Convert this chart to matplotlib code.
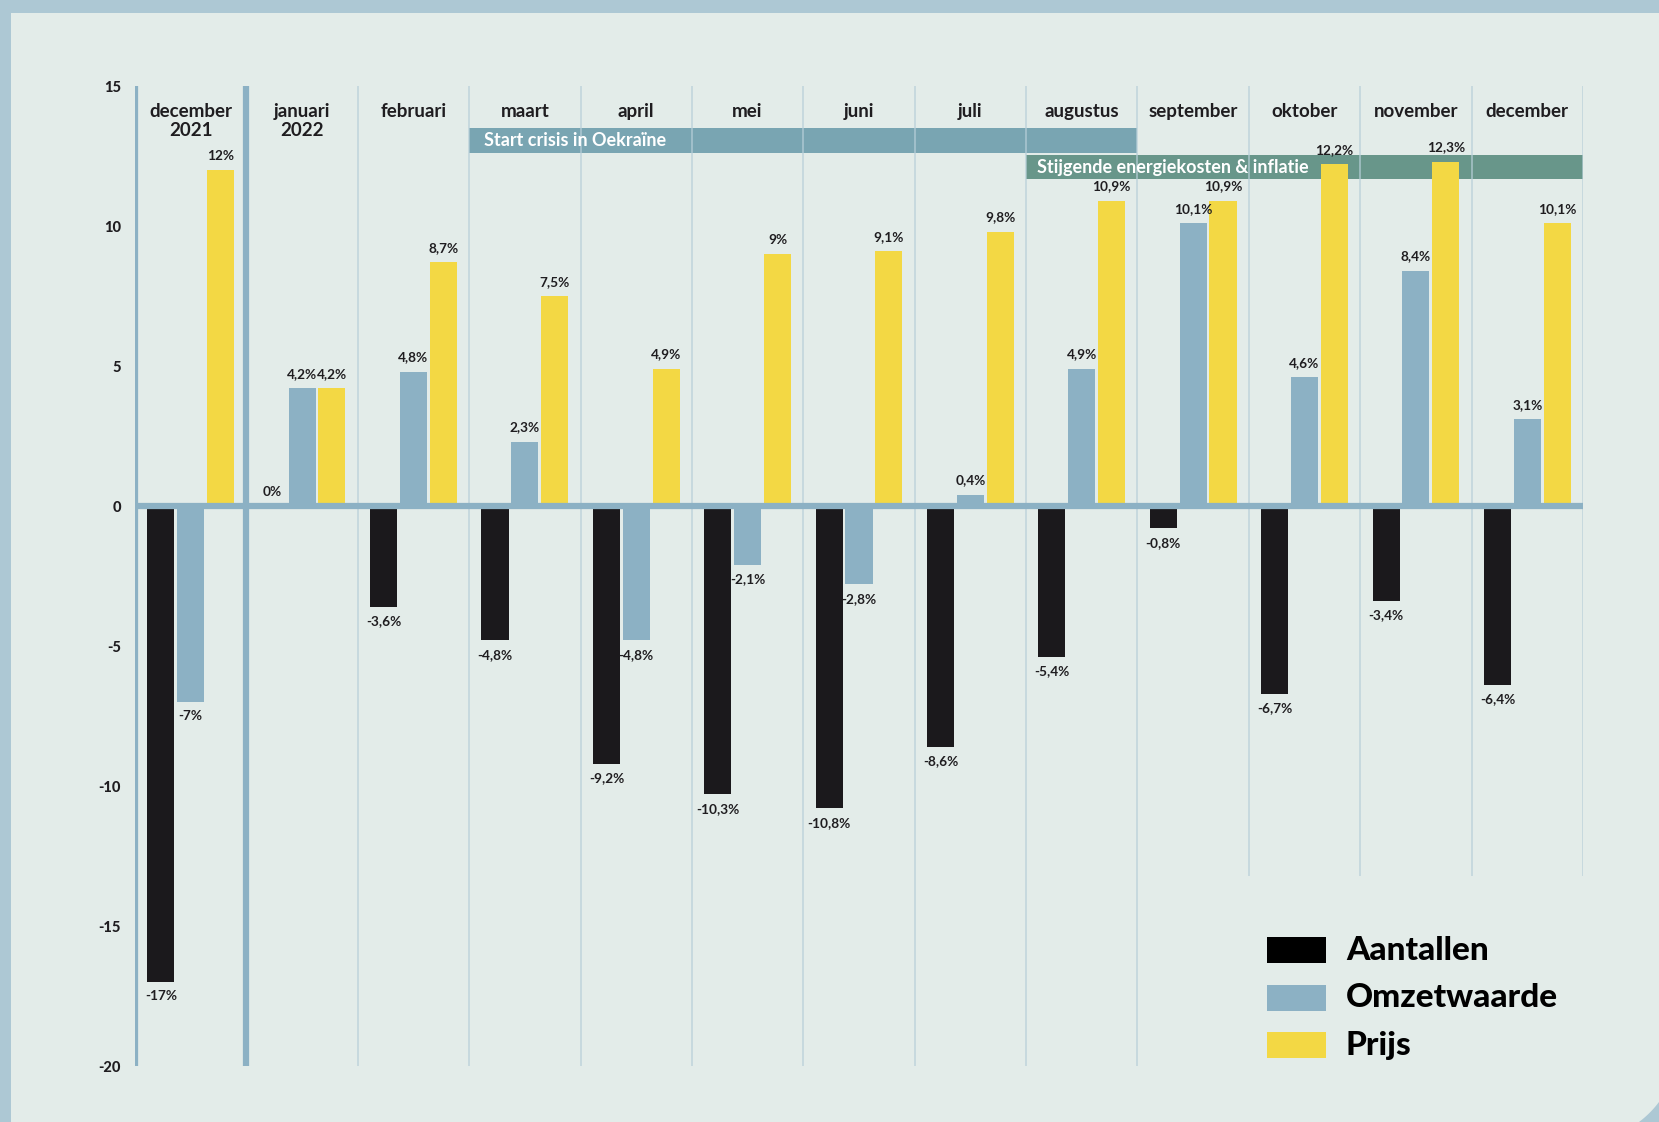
import numpy as np
import matplotlib
matplotlib.use('Agg')
import matplotlib.pyplot as plt
from matplotlib.patches import PathPatch, Rectangle
from matplotlib.path import Path
from matplotlib.transforms import IdentityTransform

# Data
maanden = ['december\n2021', 'januari\n2022', 'februari', 'maart', 'april', 'mei',
           'juni', 'juli', 'augustus', 'september', 'oktober', 'november', 'december']
aantallen = [-17, 0, -3.6, -4.8, -9.2, -10.3, -10.8, -8.6, -5.4, -0.8, -6.7, -3.4, -6.4]
omzetwaarde = [-7, 4.2, 4.8, 2.3, -4.8, -2.1, -2.8, 0.4, 4.9, 10.1, 4.6, 8.4, 3.1]
prijs = [12, 4.2, 8.7, 7.5, 4.9, 9, 9.1, 9.8, 10.9, 10.9, 12.2, 12.3, 10.1]
y_ticks = [15, 10, 5, 0, -5, -10, -15, -20]

# periodes (kolom van/tot)
crisis = (3, 8, 'Start crisis in Oekraïne')
energie = (8, 12, 'Stijgende energiekosten & inflatie')

C_BLACK = '#1b191c'
C_BLUE = '#8cb1c4'
C_YELLOW = '#f3d844'
C_BG = '#e3ece9'
C_OUTER = '#adc8d4'
C_GRID = '#b8cfd8'
C_TEXT = '#1f1d20'

plt.rcParams['font.family'] = ['Lato', 'DejaVu Sans']

W, H = 1659, 1122
fig = plt.figure(figsize=(W / 100, H / 100), dpi=100)
fig.patch.set_facecolor(C_OUTER)

# paneel met afgeronde hoek rechtsonder
r = 100
cx, cy = 1679 - r, -20 + r
t = np.linspace(-np.pi / 2, 0, 40)
arc = np.column_stack([cx + r * np.cos(t), cy + r * np.sin(t)])
verts = np.vstack([[[11, 1109], [11, -20]], arc, [[1679, 1109], [11, 1109]]])
codes = [Path.MOVETO] + [Path.LINETO] * (len(verts) - 2) + [Path.CLOSEPOLY]
fig.patches.append(PathPatch(Path(verts, codes), facecolor=C_BG, edgecolor='none',
                             transform=IdentityTransform(), zorder=-5))

ax = fig.add_axes([135 / W, 1 - 1066 / H, (1583 - 135) / W, (1066 - 86) / H])
ax.set_zorder(1)
ax.set_facecolor('none')
ax.set_xlim(-0.5, 12.5)
ax.set_ylim(-20, 15)
for s in ax.spines.values():
    s.set_visible(False)
ax.set_xticks([])
ax.set_yticks(y_ticks)
ax.set_yticklabels([str(v) for v in y_ticks], fontsize=10.5, fontweight='black', color=C_TEXT)
ax.tick_params(axis='y', length=0, pad=10)

x = np.arange(len(maanden))

# kolomlijnen
for b in np.arange(1.5, 13, 1.0):
    bottom = -13.2 if b > 9 else -20
    ax.plot([b, b], [bottom, 15], color=C_GRID, lw=1.3, zorder=2, alpha=0.7,
            solid_capstyle='butt')
for b in [-0.5, 0.5]:
    ax.plot([b, b], [-20, 15], color=C_BLUE, lw=4.5, zorder=4, solid_capstyle='butt')

# periodebalken
ax.add_patch(Rectangle((crisis[0] - 0.5, 12.61), crisis[1] - crisis[0] + 1, 0.89,
                       facecolor='#79a5b2', edgecolor='none', zorder=1))
ax.text(crisis[0] - 0.37, 13.05, crisis[2], color='white', fontsize=13,
        fontweight='bold', va='center', ha='left', zorder=5)
ax.add_patch(Rectangle((energie[0] - 0.5, 11.68), energie[1] - energie[0] + 1, 0.86,
                       facecolor='#68968a', edgecolor='none', zorder=1))
ax.text(energie[0] - 0.4, 12.1, energie[2], color='white', fontsize=13,
        fontweight='bold', va='center', ha='left', zorder=5)

# staven
bw = 0.243
off = 0.268
ax.bar(x - off, aantallen, bw, color=C_BLACK, zorder=3)
ax.bar(x, omzetwaarde, bw, color=C_BLUE, zorder=3)
ax.bar(x + off, prijs, bw, color=C_YELLOW, zorder=3)

# nullijn
ax.plot([-0.5, 12.5], [0, 0], color=C_BLUE, lw=4.5, zorder=4, solid_capstyle='butt')


def fmt(v):
    if float(v).is_integer():
        return f'{int(v)}%'
    return f'{v:.1f}'.replace('.', ',') + '%'


def label(xpos, v):
    if v >= 0:
        ax.annotate(fmt(v), (xpos, v), xytext=(0, 6), textcoords='offset points',
                    ha='center', va='bottom', fontsize=9.8, fontweight='bold',
                    color=C_TEXT, zorder=6)
    else:
        ax.annotate(fmt(v), (xpos, v), xytext=(0, -6), textcoords='offset points',
                    ha='center', va='top', fontsize=9.8, fontweight='bold',
                    color=C_TEXT, zorder=6)


for i in range(len(maanden)):
    label(x[i] - off, aantallen[i])
    label(x[i], omzetwaarde[i])
    label(x[i] + off, prijs[i])

# maandnamen
for i, m in enumerate(maanden):
    lines = m.split('\n')
    ax.text(x[i], 14.1, lines[0], ha='center', va='center', fontsize=13.5,
            fontweight='bold', color=C_TEXT, zorder=6)
    if len(lines) > 1:
        ax.text(x[i], 13.4, lines[1], ha='center', va='center', fontsize=13.5,
                fontweight='bold', color=C_TEXT, zorder=6)

# legenda
items = [('Aantallen', '#000000'), ('Omzetwaarde', C_BLUE), ('Prijs', C_YELLOW)]
for k, (naam, kleur) in enumerate(items):
    yc = 950 + k * 47.5
    fig.patches.append(Rectangle((1267 / W, 1 - (yc + 13) / H), 59 / W, 26 / H,
                                 facecolor=kleur, edgecolor='none',
                                 transform=fig.transFigure, zorder=5))
    fig.text(1346 / W, 1 - yc / H, naam, fontsize=24, fontweight='black',
             color='#000000', va='center', ha='left')

fig.savefig('out.png', dpi=100, facecolor=fig.get_facecolor())
